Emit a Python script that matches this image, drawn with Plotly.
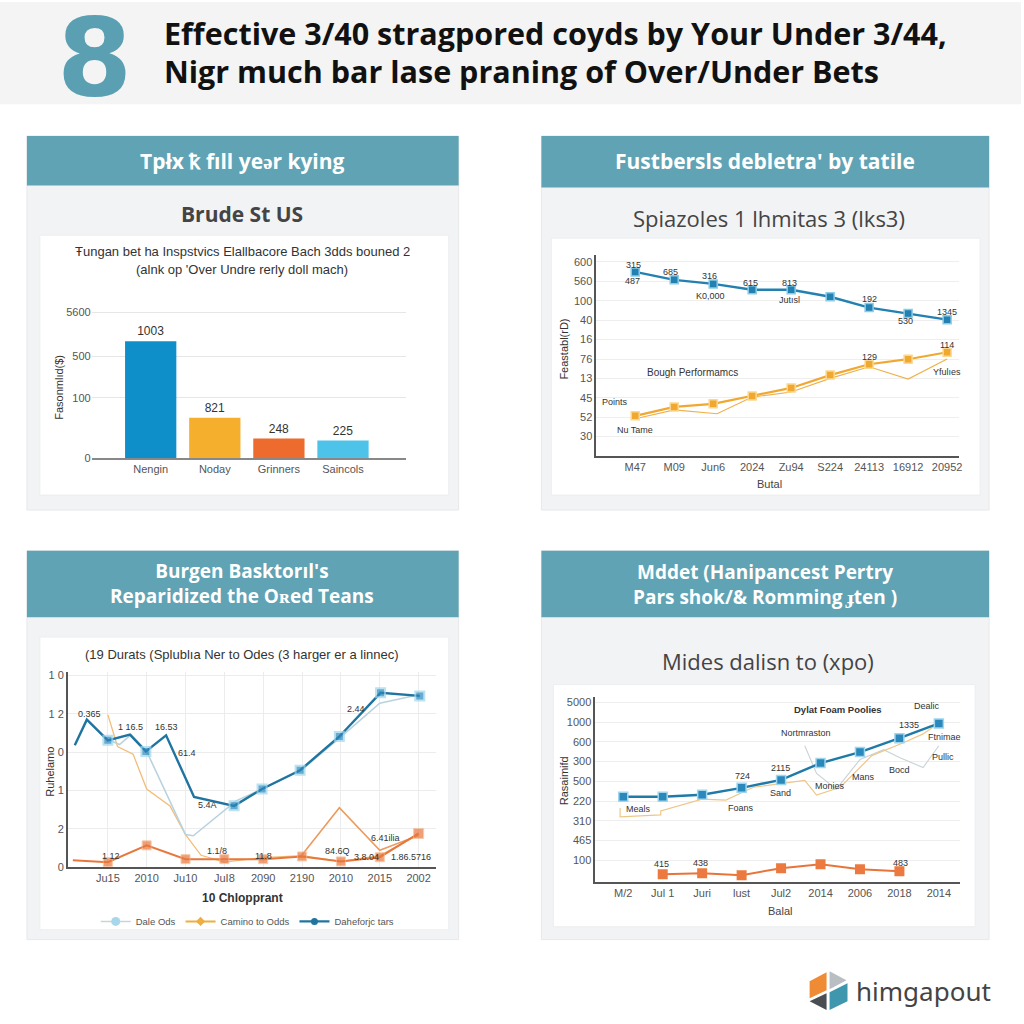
import plotly.graph_objects as go

W = H = 1024
def X(p): return p / W
def Y(p): return 1 - p / H

# ---------------- data ----------------
# Panel 1 (bar)
p1_categories = ["Nengin", "Noday", "Grinners", "Saincols"]
p1_heights = [118, 41, 20, 18]
p1_labels = ["1003", "821", "248", "225"]
p1_tickvals = [0, 61, 103, 147]
p1_ticktext = ["0", "100", "500", "5600"]

# Panel 2 (lines)
p2_xlabels = ["M47", "M09", "Jun6", "2024", "Zu94", "S224", "24113", "16912", "20952"]
p2_x = [0, 1, 2, 3, 4, 5, 6, 7, 8]
p2_blue = [9.49, 9.08, 8.87, 8.57, 8.57, 8.21, 7.65, 7.34, 7.03]
p2_gold = [2.07, 2.53, 2.69, 3.10, 3.51, 4.17, 4.73, 4.99, 5.35]
p2_gold2_x = [0, 1, 2.1, 3, 4, 5, 6, 7, 8]
p2_gold2 = [1.92, 2.38, 2.18, 3.04, 3.30, 4.00, 4.60, 3.97, 5.00]
p2_ytickvals = [1, 2, 3, 4, 5, 6, 7, 8, 9, 10]
p2_yticktext = ["30", "52", "45", "13", "76", "16", "40", "100", "560", "600"]

# Panel 3 (lines)
p3_xlabels = ["Ju15", "2010", "Ju10", "JuI8", "2090", "2190", "2010", "2015", "2002"]
p3_xticks = [0, 1, 2, 3, 4, 5, 6, 7, 8]
p3_dark_x = [-0.85, -0.54, 0, 0.57, 0.98, 1.5, 2.22, 3.25, 3.97, 4.95, 5.96, 7.02, 8.03]
p3_dark_y = [3.18, 3.85, 3.31, 3.46, 3.02, 3.44, 1.83, 1.60, 2.04, 2.53, 3.41, 4.55, 4.47]
p3_dark_marker = [0, 0, 9, 0, 9, 0, 0, 9, 9, 9, 9, 9, 9]
p3_light_x = [0, 0.3, 0.6, 1.0, 2.0, 2.2, 3.3, 4.0, 5.0, 6.0, 7.0, 8.0]
p3_light_y = [3.33, 3.20, 3.46, 3.02, 0.85, 0.82, 1.73, 2.05, 2.55, 3.40, 4.28, 4.50]
p3_tan_x = [0, 0.25, 0.65, 1.0, 1.6, 2.0, 2.4, 3.0, 4.0, 5.0, 6.0, 7.0, 8.0]
p3_tan_y = [3.98, 3.15, 2.95, 2.04, 1.60, 0.85, 0.31, 0.13, 0.25, 0.30, 0.15, 0.30, 0.85]
p3_orange_x = [-0.9, 0, 1, 2, 3, 4, 5, 6, 7, 8]
p3_orange_y = [0.18, 0.13, 0.57, 0.21, 0.21, 0.21, 0.28, 0.15, 0.26, 0.88]
p3_spike_x = [4.95, 5.96, 7.0, 8.0]
p3_spike_y = [0.26, 1.55, 0.44, 0.83]
p3_yticktext = ["0", "2", "1", "0", "1 2", "1 0"]

# Panel 4 (lines)
p4_xlabels = ["M/2", "Jul 1", "Juri", "lust", "Jul2", "2014", "2006", "2018", "2014"]
p4_x = [0, 1, 2, 3, 4, 5, 6, 7, 8]
p4_blue = [3.22, 3.22, 3.32, 3.67, 4.07, 4.92, 5.48, 6.18, 6.93]
p4_orange_x = [1, 2, 3, 4, 5, 6, 7]
p4_orange = [-0.70, -0.65, -0.75, -0.40, -0.20, -0.45, -0.55]
p4_tan_x = [-0.08, -0.08, 0.95, 0.95, 2.0, 2.6, 3.3, 4.6, 4.9, 5.5, 6.3, 7.1, 7.6, 8.0]
p4_tan_y = [2.65, 2.20, 2.30, 2.50, 3.10, 3.05, 3.70, 4.05, 3.30, 3.70, 5.30, 5.95, 6.40, 6.95]
p4_gray_x = [4.6, 4.9, 5.4, 6.0, 6.6, 7.0, 7.6, 8.0]
p4_gray_y = [5.80, 4.40, 3.60, 5.10, 5.60, 5.20, 4.70, 5.80]
p4_ytickvals = [0, 1, 2, 3, 4, 5, 6, 7, 8]
p4_yticktext = ["100", "465", "310", "220", "500", "300", "600", "1000", "5000"]

# ---------------- figure ----------------
fig = go.Figure()

TEAL = "#5fa3b4"
CARD = "#f2f3f5"
CHART_FONT = "Liberation Sans"
HEAD_FONT = "Open Sans"

# Panel 1 bars
fig.add_trace(go.Bar(
    x=[0, 1, 2, 3], y=p1_heights, text=p1_labels, textposition="outside",
    textfont=dict(size=12, color="#333", family=CHART_FONT),
    marker=dict(color=["#0e8fc9", "#f6ae2d", "#ee6b2e", "#4ec3ea"], line=dict(width=0)),
    width=0.8, cliponaxis=False, showlegend=False, xaxis="x", yaxis="y"))

# Panel 2 lines
fig.add_trace(go.Scatter(
    x=p2_gold2_x, y=p2_gold2, mode="lines", line=dict(color="#f0b04a", width=1.2),
    showlegend=False, xaxis="x2", yaxis="y2"))
fig.add_trace(go.Scatter(
    x=p2_x, y=p2_gold, mode="lines+markers", line=dict(color="#f0a830", width=2.2),
    marker=dict(symbol="square", size=8, color="#f0a830", line=dict(color="#fbd88f", width=1.5)),
    showlegend=False, xaxis="x2", yaxis="y2"))
fig.add_trace(go.Scatter(
    x=p2_x, y=p2_blue, mode="lines+markers", line=dict(color="#2381b2", width=2.4),
    marker=dict(symbol="square", size=8, color="#2381b2", line=dict(color="#8ccbe6", width=1.5)),
    showlegend=False, xaxis="x2", yaxis="y2"))

# Panel 3 lines
fig.add_trace(go.Scatter(
    x=p3_tan_x, y=p3_tan_y, mode="lines", line=dict(color="#f2bd78", width=1.3),
    showlegend=False, xaxis="x3", yaxis="y3"))
fig.add_trace(go.Scatter(
    x=p3_light_x, y=p3_light_y, mode="lines", line=dict(color="#b9d3de", width=1.6),
    showlegend=False, xaxis="x3", yaxis="y3"))
fig.add_trace(go.Scatter(
    x=p3_spike_x, y=p3_spike_y, mode="lines", line=dict(color="#ec9a5e", width=1.6),
    showlegend=False, xaxis="x3", yaxis="y3"))
fig.add_trace(go.Scatter(
    x=p3_orange_x, y=p3_orange_y, mode="lines+markers", line=dict(color="#e8773d", width=2),
    marker=dict(symbol="square", size=[0, 9, 9, 9, 9, 9, 9, 9, 9, 10], color="#e8773d",
                line=dict(color="#f6b48a", width=1)),
    showlegend=False, xaxis="x3", yaxis="y3"))
fig.add_trace(go.Scatter(
    x=p3_dark_x, y=p3_dark_y, mode="lines+markers", line=dict(color="#1f74a0", width=2.4),
    marker=dict(symbol="square", size=p3_dark_marker, color="#2a88bb",
                line=dict(color="#9fd6ee", width=2)),
    showlegend=False, xaxis="x3", yaxis="y3"))
# legend entries
fig.add_trace(go.Scatter(x=[None], y=[None], mode="lines+markers", name="Dale Ods",
    line=dict(color="#c5d5dc", width=1.5), marker=dict(size=9, color="#a8d6ea"),
    xaxis="x3", yaxis="y3"))
fig.add_trace(go.Scatter(x=[None], y=[None], mode="lines+markers", name="Camino to Odds",
    line=dict(color="#f0ae3c", width=2), marker=dict(symbol="diamond", size=7, color="#f0ae3c"),
    xaxis="x3", yaxis="y3"))
fig.add_trace(go.Scatter(x=[None], y=[None], mode="lines+markers", name="Daheforjc tars",
    line=dict(color="#1f74a0", width=2.4), marker=dict(size=7, color="#1f74a0"),
    xaxis="x3", yaxis="y3"))

# Panel 4 lines
fig.add_trace(go.Scatter(
    x=p4_gray_x, y=p4_gray_y, mode="lines", line=dict(color="#c9d3da", width=1.1),
    showlegend=False, xaxis="x4", yaxis="y4"))
fig.add_trace(go.Scatter(
    x=p4_tan_x, y=p4_tan_y, mode="lines", line=dict(color="#efc68a", width=1.2),
    showlegend=False, xaxis="x4", yaxis="y4"))
fig.add_trace(go.Scatter(
    x=p4_x, y=p4_blue, mode="lines+markers", line=dict(color="#1f7aa8", width=2.4),
    marker=dict(symbol="square", size=9, color="#2a88bb", line=dict(color="#9fd6ee", width=1.5)),
    showlegend=False, xaxis="x4", yaxis="y4"))
fig.add_trace(go.Scatter(
    x=p4_orange_x, y=p4_orange, mode="lines+markers", line=dict(color="#e9743a", width=2),
    marker=dict(symbol="square", size=10, color="#ec7a40"),
    showlegend=False, xaxis="x4", yaxis="y4"))

# ---------------- shapes ----------------
shapes = []
def rect(x0, y0, x1, y1, fill, line=None):
    shapes.append(dict(type="rect", xref="paper", yref="paper", layer="below",
                       x0=X(x0), x1=X(x1), y0=Y(y1), y1=Y(y0), fillcolor=fill,
                       line=dict(width=1 if line else 0, color=line or fill)))

rect(0, 0, 1024, 103, "#f4f4f4")
for (x0, y0, x1, y1, hb, ix0, iy0, ix1, iy1) in [
        (27, 135, 460, 512, 185, 40, 235, 450, 497),
        (543, 135, 992, 512, 187, 553, 238, 983, 497),
        (27, 553, 460, 945, 620, 40, 640, 450, 935),
        (543, 553, 992, 945, 620, 555, 688, 978, 932)]:
    rect(x0, y0, x1, y1, CARD, "#e6e8ea")
    rect(x0, y0, x1, hb, TEAL)
    rect(ix0, iy0, ix1, iy1, "#ffffff", "#eceef0")

# logo
def poly(pts, color):
    path = "M " + " L ".join(f"{X(a):.5f},{Y(b):.5f}" for a, b in pts) + " Z"
    shapes.append(dict(type="path", xref="paper", yref="paper", path=path,
                       fillcolor=color, line=dict(width=0)))
poly([(812, 987), (829, 978), (829, 996), (812, 1004)], "#ef8a35")
poly([(832, 977), (849, 986), (832, 995)], "#b9bec3")
poly([(832, 998), (850, 989), (850, 1007), (832, 1016)], "#3f97ae")
poly([(812, 1007), (829, 999), (829, 1016)], "#4a4d52")

# ---------------- annotations ----------------
ann = []
def T(text, x, y, size=9, color="#333", bold=False, family=CHART_FONT, xanchor="center", angle=0):
    if bold:
        text = f"<b>{text}</b>"
    ann.append(dict(text=text, x=X(x), y=Y(y), xref="paper", yref="paper", showarrow=False,
                    xanchor=xanchor, yanchor="middle", textangle=angle,
                    font=dict(size=size, color=color, family=family)))

# header
T("8", 95, 56, 108, "#5aa0b2", True, "DejaVu Sans")
T("Effective 3/40 stragpored coyds by Your Under 3/44,", 162, 31, 30.5, "#111", True, HEAD_FONT, "left")
T("Nigr much bar lase praning of Over/Under Bets", 162, 70, 30.5, "#111", True, HEAD_FONT, "left")

# panel headers
T("Tpłx ꝁ fıll yeǝr kying", 243, 160, 21, "#ffffff", True, HEAD_FONT)
T("Fustbersls debletra' by tatile", 767, 160, 21, "#ffffff", True, HEAD_FONT)
T("Burgen Basktorıl's<br>Reparidized the Oʀed Teans", 243, 586, 19, "#ffffff", True, HEAD_FONT)
T("Mddet (Hanipancest Pertry<br>Pars shok/& Romming ɟten )", 767, 587, 19, "#ffffff", True, HEAD_FONT)

# subtitles
T("Brude St US", 243, 214, 21, "#444", True, HEAD_FONT)
T("Spiazoles 1 lhmitas 3 (lks3)", 771, 218, 22, "#444", False, HEAD_FONT)
T("Mides dalisn to (xpo)", 770, 664, 22, "#444", False, HEAD_FONT)

# panel 1 texts
T("Ŧungan bet ha Inspstvics Elallbacore Bach 3dds bouned 2", 243, 251, 13, "#333")
T("(alnk op 'Over Undre rerly doll mach)", 243, 270, 13, "#333")
T("Fasonmlıd($)", 59, 388, 11, "#333", False, CHART_FONT, "center", -90)

# panel 2 texts
for t, x, y in [("315", 635, 265), ("487", 634, 281), ("685", 672, 272), ("316", 712, 276),
                ("K0,000", 713, 296), ("615", 753, 283), ("813", 792, 283), ("Jutısl", 792, 300),
                ("192", 872, 299), ("530", 908, 322), ("1345", 950, 312), ("114", 950, 346),
                ("129", 872, 358), ("Points", 617, 403), ("Nu Tame", 637, 431), ("Yfulıes", 950, 373)]:
    T(t, x, y, 9, "#333")
T("Bough Performamcs", 695, 373, 10, "#333")
T("Feastabl(rD)", 566, 350, 11, "#333", False, CHART_FONT, "center", -90)
T("Butal", 772, 486, 11, "#444")

# panel 3 texts
T("(19 Durats (Splublıa Ner to Odes (3 harger er a linnec)", 243, 658, 13, "#333")
for t, x, y in [("0.365", 90, 718), ("1 16.5", 131, 731), ("16.53", 167, 731), ("61.4", 188, 757),
                ("5.4A", 208, 809), ("2.44", 357, 713), ("1 12", 111, 861), ("1.1/8", 218, 856),
                ("11.8", 264, 861), ("84.6Q", 338, 856), ("3.8.04", 368, 862), ("1.86.5716", 412, 862),
                ("6.41ilia", 387, 843)]:
    T(t, x, y, 9, "#333")
T("Ruhelamo", 50, 776, 11, "#333", False, CHART_FONT, "center", -90)
T("10 Chlopprant", 243, 903, 12, "#333", True)

# panel 4 texts
T("Dylat Foam Poolies", 840, 713, 9.5, "#333", True)
for t, x, y in [("Dealic", 930, 710), ("1335", 912, 729), ("Nortmraston", 808, 737),
                ("Ftnimae", 947, 741), ("Pullic", 946, 761), ("Bocd", 902, 774), ("Mans", 866, 781),
                ("Monies", 832, 790), ("2115", 783, 772), ("724", 745, 780), ("Sand", 783, 797),
                ("Foans", 743, 812), ("Meals", 640, 813), ("415", 663, 869), ("438", 703, 868),
                ("483", 903, 868)]:
    T(t, x, y, 9, "#333")
T("Rasaimifd", 566, 785, 11, "#333", False, CHART_FONT, "center", -90)
T("Balal", 782, 916, 11, "#444")

# logo text
T("himgapout", 857, 997, 26, "#444", False, "Noto Sans", "left")

# ---------------- axes ----------------
tick_font = dict(size=11, color="#555", family=CHART_FONT)
def xa(domain, rng, tickvals, ticktext, anchor, showline=True, grid=False, color="#555"):
    return dict(domain=domain, range=rng, tickvals=tickvals, ticktext=ticktext, anchor=anchor,
                showline=showline, linecolor=color, linewidth=1.5, showgrid=grid,
                gridcolor="#ececec", zeroline=False, ticks="", tickfont=tick_font, fixedrange=True)

layout_axes = dict(
    xaxis=xa([X(92), X(407)], [-0.92, 3.98], [0, 1, 2, 3], p1_categories, "y", color="#888"),
    yaxis=dict(domain=[Y(460), Y(300)], range=[0, 160], tickvals=p1_tickvals, ticktext=p1_ticktext,
               anchor="x", showline=False, showgrid=True, gridcolor="#e6e6e6", zeroline=False,
               tickfont=tick_font, fixedrange=True),
    xaxis2=xa([X(598), X(962)], [-1.0, 8.31], p2_x, p2_xlabels, "y2"),
    yaxis2=dict(domain=[Y(458), Y(255)], range=[-0.02, 10.36], tickvals=p2_ytickvals,
                ticktext=p2_yticktext, anchor="x2", showline=True, linecolor="#555", linewidth=1.5,
                showgrid=True, gridcolor="#eeeeee", zeroline=False, tickfont=tick_font, fixedrange=True),
    xaxis3=xa([X(68), X(437)], [-1.03, 8.44], p3_xticks, p3_xlabels, "y3", grid=True),
    yaxis3=dict(domain=[Y(872), Y(675)], range=[0, 5.1], tickvals=[0, 1, 2, 3, 4, 5],
                ticktext=p3_yticktext, anchor="x3", showline=True, linecolor="#555", linewidth=1.5,
                showgrid=True, gridcolor="#ececec", zeroline=False, tickfont=tick_font, fixedrange=True),
    xaxis4=xa([X(597), X(963)], [-0.71, 8.54], p4_x, p4_xlabels, "y4"),
    yaxis4=dict(domain=[Y(887), Y(700)], range=[-1.1, 8.29], tickvals=p4_ytickvals,
                ticktext=p4_yticktext, anchor="x4", showline=True, linecolor="#555", linewidth=1.5,
                showgrid=True, gridcolor="#eeeeee", zeroline=False, tickfont=tick_font, fixedrange=True),
)

fig.update_layout(
    width=W, height=H, autosize=False,
    margin=dict(l=0, r=0, t=0, b=0, pad=0),
    paper_bgcolor="#ffffff", plot_bgcolor="rgba(0,0,0,0)",
    shapes=shapes, annotations=ann,
    legend=dict(orientation="h", x=X(96), y=Y(912), xanchor="left", yanchor="top",
                font=dict(size=9.5, color="#555", family=CHART_FONT), bgcolor="rgba(0,0,0,0)",
                itemwidth=30, tracegroupgap=0),
    bargap=0.2,
    **layout_axes,
)

fig.write_html("out.html", config={"displayModeBar": False},
               post_script="document.body.style.margin='0';document.body.style.overflow='hidden';")
